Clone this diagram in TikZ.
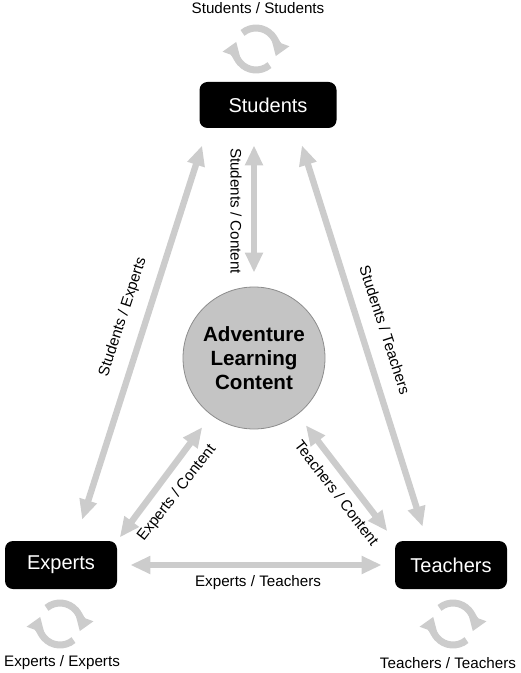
\documentclass[tikz,border=0pt]{standalone}
\usepackage{fontspec}
\setmainfont{Liberation Sans}
\usetikzlibrary{arrows.meta,calc}

\definecolor{linkgray}{HTML}{CCCCCC}
\definecolor{hubgray}{HTML}{C4C4C4}
\definecolor{hubedge}{HTML}{8C8C8C}

\begin{document}
\begin{tikzpicture}[x=0.5pt, y=-0.5pt,
        actor/.style={fill=black, text=white, rounded corners=4pt, inner sep=0pt,
            minimum height=24pt, font={\fontsize{10}{12}\selectfont}},
        hub/.style={circle, fill=hubgray, draw=hubedge, line width=0.4pt, inner sep=0pt,
            minimum size=71pt, align=center, font={\bfseries\fontsize{10.3}{12}\selectfont}},
        link/.style={draw=linkgray, line width=3.2pt,
            {Triangle[length=10pt,width=8.5pt]}-{Triangle[length=10pt,width=8.5pt]}},
        ring/.style={draw=linkgray, line width=3.5pt, -{Triangle[length=7pt,width=9pt]}},
        tag/.style={inner sep=0pt, font={\fontsize{7.6}{9}\selectfont}}]
        \useasboundingbox (0,0) rectangle (520,673);

        % the three groups and the content
        \node[actor, minimum width=68.5pt, minimum height=23pt] (students) at (268,105) {Students};
        \node[actor, minimum width=56pt] (experts) at (61,565) {Experts};
        \node[actor, minimum width=56pt] (teachers) at (451,565) {Teachers};
        \node[hub] (content) at (254,358) {Adventure\\Learning\\Content};

        % two-way links
        \draw[link, shorten <=7pt, shorten >=8.5pt] (content.north) -- (content.north |- students.south);
        \draw[link, shorten <=11pt, shorten >=9pt] ([xshift=-21pt]experts.north east) -- ([xshift=4.25pt]students.south west);
        \draw[link, shorten <=8.9pt, shorten >=7.3pt] ([xshift=-20.2pt]students.south east) -- ([xshift=16.2pt]teachers.north west);
        \draw[link, shorten <=7.5pt, shorten >=2pt] (content) -- (experts.north east);
        \draw[link, shorten <=6.75pt, shorten >=6pt] (content) -- (teachers.north west);
        \draw[link, shorten <=6.5pt, shorten >=6.5pt] (experts) -- (teachers);

        % self loops
        \coordinate (ringS) at (256,49);
        \coordinate (ringE) at (60,624);
        \coordinate (ringT) at (453,624);
        \foreach \c in {ringS, ringE, ringT} {
            \draw[ring] ($(\c)+(-130:21)$) arc (-130:20:21);
            \draw[ring] ($(\c)+(50:21)$) arc (50:200:21);
        }

        % labels
        \node[tag] (ssLabel) at (258,8) {Students / Students};
        \node[tag] (eeLabel) at (62,663) {Experts / Experts};
        \node[tag] (ttLabel) at (448,663) {Teachers / Teachers};
        \node[tag] (etLabel) at (258,583) {Experts / Teachers};
        \node[tag, rotate=-90] (scLabel) at (236,211) {Students / Content};
        \node[tag, rotate=72] (seLabel) at (123,317) {Students / Experts};
        \node[tag, rotate=-72] (stLabel) at (385,330) {Students / Teachers};
        \node[tag, rotate=52] (ecLabel) at (177,493) {Experts / Content};
        \node[tag, rotate=-52.5] (tcLabel) at (337,493) {Teachers / Content};
    \end{tikzpicture}
\end{document}
